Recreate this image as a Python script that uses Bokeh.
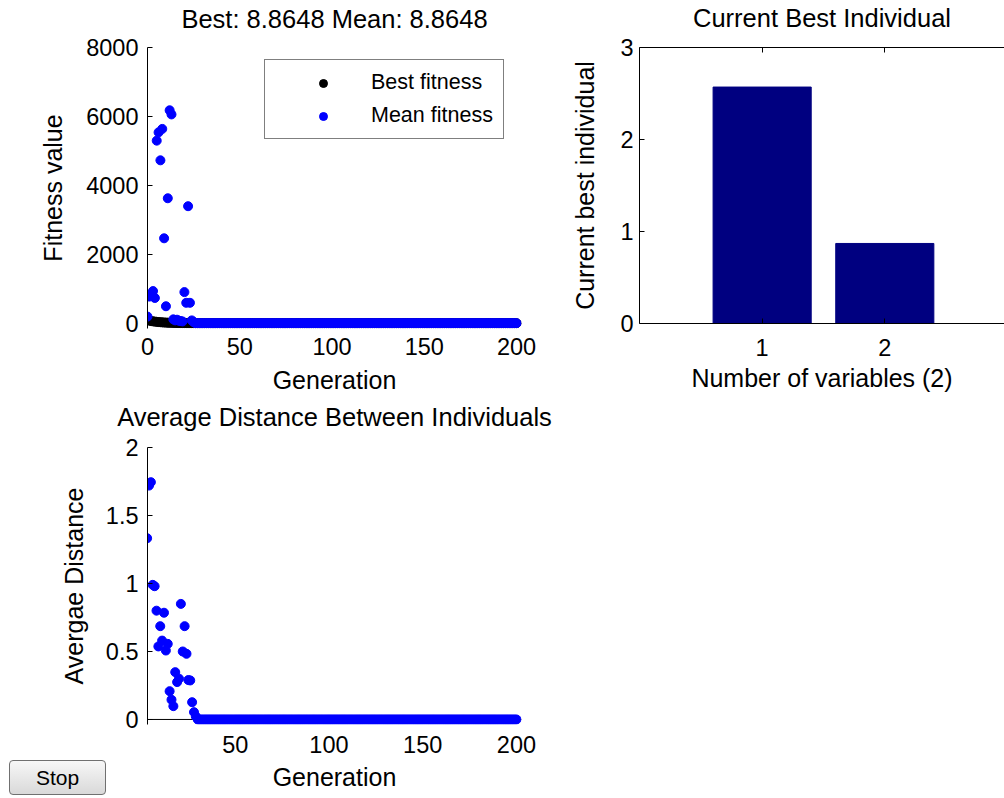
from bokeh.plotting import figure
from bokeh.models import (Range1d, FixedTicker, LinearAxis, Span, Legend,
                          LegendItem, Button, InlineStyleSheet)
from bokeh.layouts import row, column
from bokeh.embed import file_html
from bokeh.resources import INLINE

FONT = "Liberation Sans"
TICK_SIZE = "23.5px"
LABEL_SIZE = "25px"
TITLE_SIZE = "25.5px"

# ---------------- data ----------------
# Fitness panel: generations 0..25 have visibly distinct values
fitness_gens_early = [0, 1, 2, 3, 4, 5, 6, 7, 8, 9, 10, 11, 12,
                      13, 14, 15, 16, 17, 18, 19, 20, 21, 22, 23, 24, 25]
best_fitness_early = [95, 82, 71, 62, 55, 48, 42, 37, 33, 29, 26, 23, 21,
                      19, 17, 15.5, 14, 13, 12, 11.2, 10.6, 10.1, 9.7, 9.4, 9.2, 9.0]
mean_fitness_early = [200, 780, 860, 940, 740, 5300, 5540, 4730, 5640, 2470, 500, 3630, 6180,
                      6060, 120, 90, 110, 80, 70, 60, 910, 600, 3400, 600, 90, 40]
# from generation 26 to 200 both series sit flat on the final value
final_fitness = 8.8648
plateau_first_gen = 26
last_gen = 200

# Current best individual
variables = [1, 2]
best_individual = [2.57, 0.87]

# Average distance panel: generations 3..29 distinct, then flat at zero
distance_gens_early = [3, 4, 5, 6, 7, 8, 9, 10, 11, 12, 13, 14, 15, 16,
                       17, 18, 19, 20, 21, 22, 23, 24, 25, 26, 27, 28, 29]
avg_distance_early = [1.333, 1.72, 1.745, 0.99, 0.98, 0.80, 0.537, 0.686, 0.58, 0.785, 0.507, 0.556, 0.208, 0.145,
                      0.098, 0.348, 0.275, 0.30, 0.85, 0.50, 0.686, 0.483, 0.29, 0.287, 0.127, 0.054, 0.022]
final_distance = 0.0
distance_plateau_first_gen = 30

# tick labels
gen_ticks = [0, 50, 100, 150, 200]
fitness_ticks = [0, 2000, 4000, 6000, 8000]
var_ticks = [1, 2]
indiv_ticks = [0, 1, 2, 3]
dist_gen_ticks = [50, 100, 150, 200]
dist_ticks = [0, 0.5, 1, 1.5, 2]
dist_tick_labels = ["0", "0.5", "1", "1.5", "2"]

plateau_gens = list(range(plateau_first_gen, last_gen + 1))
fit_gens = fitness_gens_early + plateau_gens
best_fitness = best_fitness_early + [final_fitness] * len(plateau_gens)
mean_fitness = mean_fitness_early + [final_fitness] * len(plateau_gens)

dist_plateau_gens = list(range(distance_plateau_first_gen, last_gen + 1))
dist_gens = distance_gens_early + dist_plateau_gens
avg_distance = avg_distance_early + [final_distance] * len(dist_plateau_gens)


def style_axis(ax, show_line=True):
    ax.axis_line_color = "black" if show_line else None
    ax.axis_line_width = 1
    ax.major_tick_in = 5
    ax.major_tick_out = 0
    ax.major_tick_line_color = "black"
    ax.minor_tick_line_color = None
    ax.major_label_text_font = FONT
    ax.major_label_text_font_size = TICK_SIZE
    ax.major_label_text_color = "black"
    ax.axis_label_text_font = FONT
    ax.axis_label_text_font_size = LABEL_SIZE
    ax.axis_label_text_font_style = "normal"
    ax.axis_label_text_color = "black"


def title_axis(text, standoff, ticks=None, show_line=False):
    """An axis above the frame whose label acts as the panel title."""
    ax = LinearAxis(ticker=FixedTicker(ticks=ticks or []))
    style_axis(ax, show_line=show_line)
    if not show_line:
        ax.major_tick_line_color = None
    ax.major_label_text_font_size = "2px"
    ax.major_label_text_color = None
    ax.major_label_standoff = 0
    ax.axis_label = text
    ax.axis_label_text_font_size = TITLE_SIZE
    ax.axis_label_standoff = standoff
    return ax


def base_fig(**kw):
    p = figure(output_backend="svg", toolbar_location=None, **kw)
    p.grid.grid_line_color = None
    p.outline_line_color = None
    p.background_fill_color = "white"
    p.border_fill_color = "white"
    return p


# ---------------- top-left: fitness ----------------
p1 = base_fig(width=568, height=398,
              x_range=Range1d(0, 202.7), y_range=Range1d(-145, 8000),
              min_border_left=147, min_border_right=47,
              min_border_top=47, min_border_bottom=70)
p1.add_layout(Span(location=0, dimension="width", line_color="black",
                   line_width=1, level="underlay"))
r_best = p1.scatter(fit_gens, best_fitness, size=9, color="black")
r_mean = p1.scatter(fit_gens, mean_fitness, size=9, color="blue")
xb1, yl1 = p1.below[0], p1.left[0]
style_axis(xb1, show_line=False)
xb1.major_tick_line_color = None
style_axis(yl1)
xb1.ticker = FixedTicker(ticks=gen_ticks)
yl1.ticker = FixedTicker(ticks=fitness_ticks)
xb1.axis_label = "Generation"
yl1.axis_label = "Fitness value"
xb1.major_label_standoff = 9
xb1.axis_label_standoff = 8
yl1.major_label_standoff = 9
yl1.axis_label_standoff = 16
p1.add_layout(title_axis("Best: 8.8648 Mean: 8.8648", 15), "above")

legend = Legend(items=[LegendItem(label="Best fitness", renderers=[r_best]),
                       LegendItem(label="Mean fitness", renderers=[r_mean])],
                location=(117, 189), margin=0, padding=10, spacing=8,
                glyph_width=96, glyph_height=20, label_standoff=-2,
                label_height=25,
                label_text_font=FONT, label_text_font_size="21.5px",
                label_text_color="black",
                border_line_color="black", border_line_width=1,
                background_fill_color="white", background_fill_alpha=1.0)
p1.add_layout(legend)

# ---------------- top-right: current best individual ----------------
p2 = base_fig(width=436, height=398,
              x_range=Range1d(0, 2.976), y_range=Range1d(0, 3),
              min_border_left=70, min_border_right=0,
              min_border_top=47, min_border_bottom=75)
p2.vbar(x=variables, top=best_individual, width=0.8,
        fill_color="#000080", line_color="#000080")
xb2, yl2 = p2.below[0], p2.left[0]
style_axis(xb2)
style_axis(yl2)
xb2.ticker = FixedTicker(ticks=var_ticks)
yl2.ticker = FixedTicker(ticks=indiv_ticks)
xb2.axis_label = "Number of variables (2)"
yl2.axis_label = "Current best individual"
xb2.major_label_standoff = 15
xb2.axis_label_standoff = 5
yl2.major_label_standoff = 6
yl2.axis_label_standoff = 18
p2.add_layout(title_axis("Current Best Individual", 16, ticks=var_ticks,
                         show_line=True), "above")

# ---------------- bottom-left: average distance ----------------
p3 = base_fig(width=568, height=399,
              x_range=Range1d(3.2, 202.7), y_range=Range1d(-0.037, 2),
              min_border_left=147, min_border_right=47,
              min_border_top=49, min_border_bottom=73)
p3.add_layout(Span(location=0, dimension="width", line_color="black",
                   line_width=1, level="underlay"))
p3.scatter(dist_gens, avg_distance, size=9, color="blue")
xb3, yl3 = p3.below[0], p3.left[0]
style_axis(xb3, show_line=False)
xb3.major_tick_line_color = None
style_axis(yl3)
xb3.ticker = FixedTicker(ticks=dist_gen_ticks)
yl3.ticker = FixedTicker(ticks=dist_ticks)
yl3.major_label_overrides = {t: s for t, s in zip(dist_ticks, dist_tick_labels)}
xb3.axis_label = "Generation"
yl3.axis_label = "Avergae Distance"
xb3.major_label_standoff = 11
xb3.axis_label_standoff = 7
yl3.major_label_standoff = 9
yl3.axis_label_standoff = 15
p3.add_layout(title_axis("Average Distance Between Individuals", 17), "above")

btn_css = InlineStyleSheet(css="""
.bk-btn, .bk-btn.bk-btn-default {
  font-family: 'Liberation Sans', sans-serif !important;
  font-size: 21px !important;
  color: #000 !important;
  background: linear-gradient(#f7f7f7, #d9d9d9) !important;
  border: 1px solid #707070 !important;
  border-radius: 4px !important;
  padding: 0 !important;
  height: 35px !important;
  box-shadow: none !important;
}
""")
stop_btn = Button(label="Stop", width=97, height=35, button_type="default",
                  stylesheets=[btn_css],
                  styles={"position": "absolute", "left": "4px", "top": "755px",
                          "z-index": "10"})

layout = row(column(p1, p3, stop_btn), p2)
open("out.html", "w").write(file_html(layout, INLINE))
